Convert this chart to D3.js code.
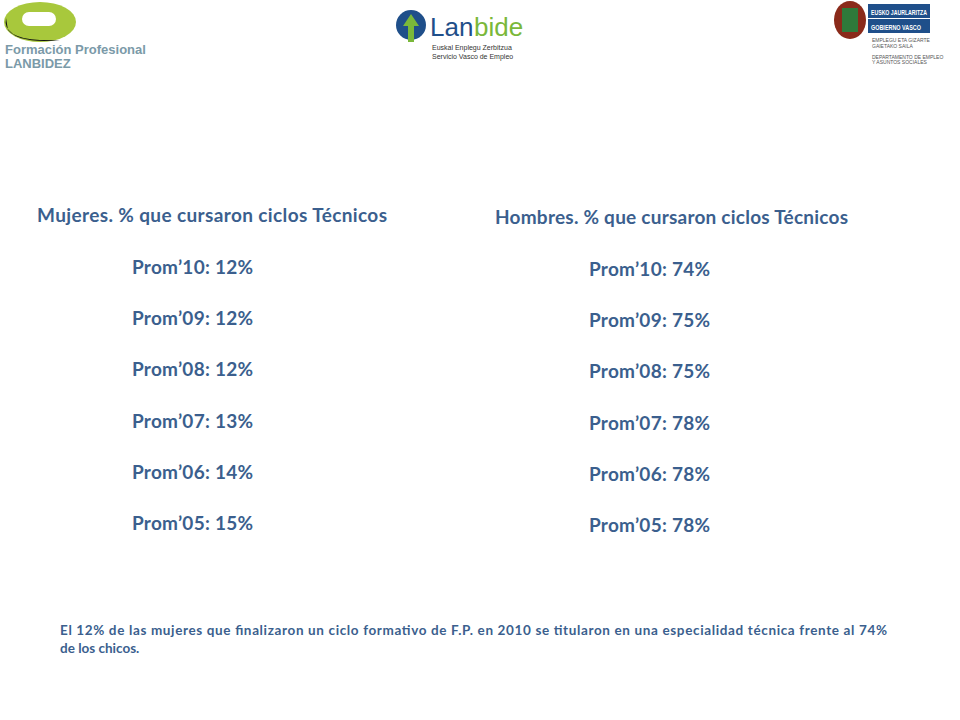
<!DOCTYPE html>
<html><head><meta charset="utf-8">
<script src="https://cdn.jsdelivr.net/npm/d3@7"></script>
<style>body{margin:0;background:#fff}</style>
</head><body>
<svg id="slide" width="960" height="720"></svg>
<script>
var years = ["10", "09", "08", "07", "06", "05"];
var mujeres = [12, 12, 12, 13, 14, 15];
var hombres = [74, 75, 75, 78, 78, 78];

var svg = d3.select("#slide");
var blue = "#3b5f8e";

// row positions
var y = d3.scalePoint().domain(years).range([274, 530]);

// logo: Formacion Profesional
svg.append("ellipse").attr("cx", 40).attr("cy", 22).attr("rx", 36).attr("ry", 20).attr("fill", "#a8c83c");
svg.append("path").attr("d", "M6,18 Q2,38 40,40 L60,40 Q20,44 8,30 Z").attr("fill", "#111");
svg.append("rect").attr("x", 22).attr("y", 12).attr("width", 34).attr("height", 14).attr("rx", 7).attr("fill", "#fff");
svg.append("text").attr("x", 5).attr("y", 54).text("Formación Profesional")
  .attr("font-family", "Arial").attr("font-weight", "bold").attr("font-size", 13).attr("fill", "#7b9aa8");
svg.append("text").attr("x", 5).attr("y", 68).text("LANBIDEZ")
  .attr("font-family", "Arial").attr("font-weight", "bold").attr("font-size", 13).attr("fill", "#7b9aa8");

// logo: Lanbide
svg.append("circle").attr("cx", 411).attr("cy", 25).attr("r", 15).attr("fill", "#1f4f8a");
svg.append("path").attr("d", "M411,14 L419,26 L414,26 L414,42 L408,42 L408,26 L403,26 Z").attr("fill", "#7ab83a");
svg.append("text").attr("x", 430).attr("y", 36).text("Lan")
  .attr("font-family", "Arial").attr("font-size", 26).attr("fill", "#1f4f8a");
svg.append("text").attr("x", 474).attr("y", 36).text("bide")
  .attr("font-family", "Arial").attr("font-size", 26).attr("fill", "#7ab83a");
svg.append("text").attr("x", 432).attr("y", 50).text("Euskal Enplegu Zerbitzua")
  .attr("font-family", "Arial").attr("font-size", 7).attr("fill", "#333");
svg.append("text").attr("x", 432).attr("y", 59).text("Servicio Vasco de Empleo")
  .attr("font-family", "Arial").attr("font-size", 7).attr("fill", "#333");

// logo: Gobierno Vasco
svg.append("ellipse").attr("cx", 850).attr("cy", 20).attr("rx", 16).attr("ry", 19).attr("fill", "#8a2a1a");
svg.append("rect").attr("x", 842).attr("y", 8).attr("width", 16).attr("height", 24).attr("fill", "#2e7a3a");
svg.append("rect").attr("x", 868).attr("y", 4).attr("width", 62).attr("height", 14).attr("fill", "#1f4f8a");
svg.append("rect").attr("x", 868).attr("y", 19).attr("width", 62).attr("height", 14).attr("fill", "#1f4f8a");
svg.append("text").attr("x", 871).attr("y", 14.5).text("EUSKO JAURLARITZA")
  .attr("font-family", "Arial").attr("font-weight", "bold").attr("font-size", 7).attr("fill", "#fff")
  .attr("textLength", 56).attr("lengthAdjust", "spacingAndGlyphs");
svg.append("text").attr("x", 871).attr("y", 29.5).text("GOBIERNO VASCO")
  .attr("font-family", "Arial").attr("font-weight", "bold").attr("font-size", 7).attr("fill", "#fff")
  .attr("textLength", 50).attr("lengthAdjust", "spacingAndGlyphs");
["EMPLEGU ETA GIZARTE", "GAIETAKO SAILA", "", "DEPARTAMENTO DE EMPLEO", "Y ASUNTOS SOCIALES"].forEach(function (t, i) {
  svg.append("text").attr("x", 872).attr("y", 42 + i * 5.5).text(t)
    .attr("font-family", "Arial").attr("font-size", 5).attr("fill", "#555");
});

var font = "Lato, 'Open Sans', sans-serif";

function column(title, tx, ty, tl, rx, vals) {
  svg.append("text").attr("x", tx).attr("y", ty).text(title)
    .attr("font-family", font).attr("font-weight", "bold").attr("font-size", 19).attr("fill", blue)
    .attr("textLength", tl).attr("lengthAdjust", "spacing");
  svg.selectAll(null).data(vals).enter().append("text")
    .attr("x", rx)
    .attr("y", function (d, i) { return y(years[i]) + (ty > 222 ? 2 : 0); })
    .text(function (d, i) { return "Prom\u2019" + years[i] + ": " + d + "%"; })
    .attr("font-family", font).attr("font-weight", "bold").attr("font-size", 19).attr("fill", blue)
    .attr("textLength", 121).attr("lengthAdjust", "spacing");
}
column("Mujeres. % que cursaron  ciclos Técnicos", 37, 222, 350, 132, mujeres);
column("Hombres. % que cursaron ciclos Técnicos", 495, 224, 353, 589, hombres);

svg.append("text").attr("x", 60).attr("y", 635)
  .text("El 12% de las mujeres que finalizaron un ciclo formativo de F.P. en 2010 se titularon en una especialidad técnica frente al 74%")
  .attr("font-family", font).attr("font-weight", "bold").attr("font-size", 13.5).attr("fill", blue)
  .attr("textLength", 827).attr("lengthAdjust", "spacing");
svg.append("text").attr("x", 60).attr("y", 653).text("de los chicos.")
  .attr("font-family", font).attr("font-weight", "bold").attr("font-size", 13.5).attr("fill", blue);
</script>
</body></html>
